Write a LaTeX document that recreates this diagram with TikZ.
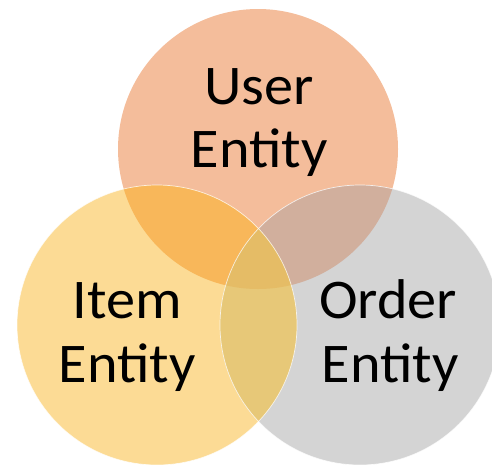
\documentclass[tikz,border=0pt]{standalone}
\usepackage{fontspec}
\setmainfont{Carlito}
\definecolor{userc}{HTML}{F4BD9B}
\definecolor{itemc}{HTML}{FCDB95}
\definecolor{orderc}{HTML}{D4D4D4}
\definecolor{useritem}{HTML}{F8B75A}
\definecolor{userorder}{HTML}{D1AF9D}
\definecolor{itemorder}{HTML}{E7C878}
\definecolor{allthree}{HTML}{E5BC66}
\newcommand{\wide}[1]{\scalebox{1.04}[1]{#1}}
\tikzset{
  label/.style={anchor=base, inner sep=0pt, font=\fontsize{56}{66}\selectfont, text=black},
  rim/.style={draw=white, draw opacity=0.75, line width=0.7pt}
}
\begin{document}
\begin{tikzpicture}[x=1pt, y=-1pt]
  \useasboundingbox (0,0) rectangle (492,464);
  \begin{scope}
    \clip (0,0) rectangle (492,464);
    \coordinate (U) at (258,149);
    \coordinate (I) at (157,325);
    \coordinate (O) at (360,325);
    \def\R{140}
    % single sets
    \fill[userc] (U) circle (\R);
    \fill[itemc] (I) circle (\R);
    \fill[orderc] (O) circle (\R);
    % pairwise overlaps
    \begin{scope}
      \clip (U) circle (\R);
      \fill[useritem] (I) circle (\R);
      \fill[userorder] (O) circle (\R);
    \end{scope}
    \begin{scope}
      \clip (I) circle (\R);
      \fill[itemorder] (O) circle (\R);
    \end{scope}
    % triple overlap
    \begin{scope}
      \clip (U) circle (\R);
      \clip (I) circle (\R);
      \fill[allthree] (O) circle (\R);
    \end{scope}
    % light rims
    \draw[rim] (I) circle (\R);
    \draw[rim] (O) circle (\R);
  \end{scope}
  % labels
  \node[label] (user1) at (259,104) {\wide{User}};
  \node[label] (user2) at (259,167) {\wide{Entity}};
  \node[label] (item1) at (127,318) {\wide{Item}};
  \node[label] (item2) at (127,382) {\wide{Entity}};
  \node[label] (order1) at (388,318) {\wide{Order}};
  \node[label] (order2) at (390,382) {\wide{Entity}};
\end{tikzpicture}
\end{document}
